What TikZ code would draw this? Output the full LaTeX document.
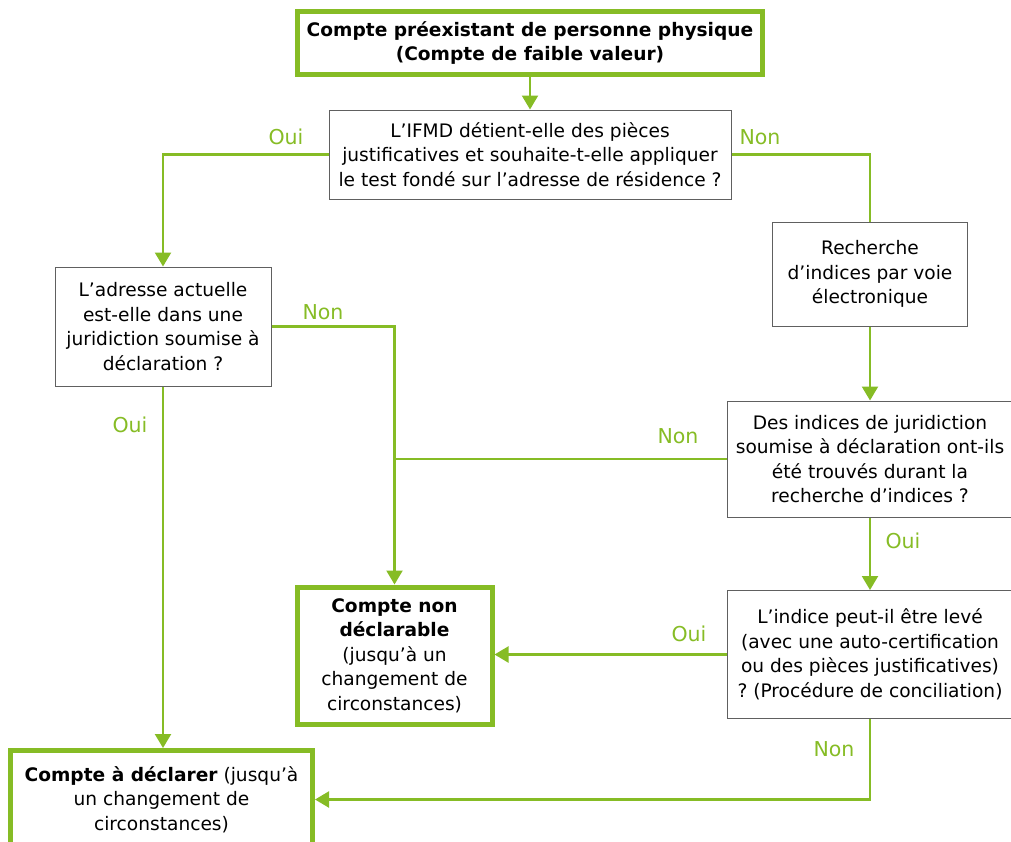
\documentclass[tikz,border=0pt]{standalone}
\usepackage{fontspec}
\setmainfont{DejaVu Sans}
\usetikzlibrary{arrows.meta}
\definecolor{leafgreen}{RGB}{134,188,37}
\definecolor{boxgray}{RGB}{96,96,96}
\frenchspacing

\begin{document}
\begin{tikzpicture}[x=1pt,y=-1pt,
  question/.style={draw=boxgray,line width=1pt,fill=white,align=center,inner sep=0pt,font=\fontsize{18.6}{24.5}\selectfont},
  outcome/.style={draw=leafgreen,line width=5pt,fill=white,align=center,inner sep=0pt,font=\fontsize{18.6}{24.5}\selectfont},
  link/.style={draw=leafgreen,line width=2.2pt},
  flow/.style={link,-{Triangle[width=16pt,length=14pt]}},
  answer/.style={text=leafgreen,inner sep=0pt,font=\fontsize{20.5}{24}\selectfont}]
  \useasboundingbox (0,0) rectangle (1011,841);
  \node[outcome,minimum width=465pt,minimum height=63pt] (start) at (530,43) {\textbf{Compte préexistant de personne physique}\\\textbf{(Compte de faible valeur)}};
  \node[question,minimum width=402pt,minimum height=89pt] (resid) at (530,154.5) {L’IFMD détient-elle des pièces\\justificatives et souhaite-t-elle appliquer\\le test fondé sur l’adresse de résidence ?};
  \node[question,minimum width=216pt,minimum height=119pt] (adr) at (163,326.5) {L’adresse actuelle\\est-elle dans une\\juridiction soumise à\\déclaration ?};
  \node[question,minimum width=195pt,minimum height=104pt] (search) at (870,274) {Recherche\\d’indices par voie\\électronique};
  \node[question,minimum width=286pt,minimum height=116pt] (found) at (870,459) {Des indices de juridiction\\soumise à déclaration ont-ils\\été trouvés durant la\\recherche d’indices ?};
  \node[question,minimum width=286pt,minimum height=128pt] (cure) at (870,654.5) {L’indice peut-il être levé\\(avec une auto-certification\\ou des pièces justificatives)\\? (Procédure de conciliation)};
  \node[outcome,minimum width=195pt,minimum height=137pt] (nonrep) at (394.5,655.5) {\textbf{Compte non}\\\textbf{déclarable}\\(jusqu’à un\\changement de\\circonstances)};
  \node[outcome,minimum width=302pt,minimum height=98pt] (rep) at (161.5,799.5) {\textbf{Compte à déclarer} (jusqu’à\\un changement de\\circonstances)};

  \draw[flow] (start) -- (resid);
  \draw[flow] (resid.west) -| (adr.north);
  \draw[link] (resid.east) -| (search.north);
  \draw[flow] (search) -- (found);
  \draw[flow] (adr.east) -| (nonrep.north);
  \draw[link] (found.west) -- (found.west -| nonrep.north);
  \draw[flow] (found) -- (cure);
  \draw[flow] (cure.west) -- (cure.west -| nonrep.east);
  \draw[flow] (adr.south) -- (adr.south |- rep.north);
  \draw[flow] (cure.south) |- (rep.east);

  \node[answer] (yesaddr) at (286,137) {Oui};
  \node[answer] (nosearch) at (760,137) {Non};
  \node[answer] (noaddr) at (323,312) {Non};
  \node[answer] (yesrep) at (130,425) {Oui};
  \node[answer] (nofound) at (678,436) {Non};
  \node[answer] (yesfound) at (903,541) {Oui};
  \node[answer] (yescure) at (689,634) {Oui};
  \node[answer] (nocure) at (834,749) {Non};
\end{tikzpicture}
\end{document}
